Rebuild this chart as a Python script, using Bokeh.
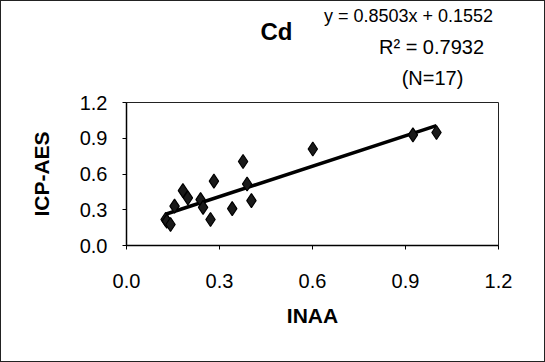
from bokeh.plotting import figure
from bokeh.layouts import column
from bokeh.embed import file_html
from bokeh.resources import INLINE
from bokeh.models import FixedTicker, NumeralTickFormatter, Label, Range1d

# Data
inaa = [0.126, 0.130, 0.142, 0.155, 0.182, 0.198, 0.239, 0.247, 0.271, 0.282,
        0.341, 0.376, 0.389, 0.403, 0.601, 0.924, 1.000]
icp = [0.218, 0.205, 0.176, 0.330, 0.460, 0.400, 0.385, 0.320, 0.218, 0.540,
       0.310, 0.705, 0.516, 0.377, 0.810, 0.929, 0.948]
slope = 0.8503
intercept = 0.1552
ticks = [0.0, 0.3, 0.6, 0.9, 1.2]
title_text = "Cd"
eq_lines = ["y = 0.8503x + 0.1552", "R² = 0.7932", "(N=17)"]

FONT = "Liberation Sans"
W = 543
TOP_H = 88
MAIN_H = 272
BL, BR = 125, 46

# Header strip holding title and regression text (page pixel coordinates;
# its frame is aligned by the column with the main frame, page x 126..498)
top = figure(width=W, height=TOP_H, output_backend="svg", toolbar_location=None,
             x_range=Range1d(126, 498), y_range=Range1d(TOP_H + 1, 1),
             x_axis_location=None, y_axis_location=None,
             min_border=0, title=None)
top.grid.visible = False
top.outline_line_color = None
top.background_fill_color = "white"
top.border_fill_color = "white"

def lab(text, cx, cy, size, bold=False):
    return Label(x=cx, y=cy, text=text, text_font=FONT,
                 text_font_size=size,
                 text_font_style="bold" if bold else "normal",
                 text_align="center", text_baseline="middle",
                 text_color="black")

top.add_layout(lab(title_text, 276, 31, "24px", True))
top.add_layout(lab(eq_lines[0], 408, 15, "18px"))
top.add_layout(lab(eq_lines[1], 431, 46, "20px"))
top.add_layout(lab(eq_lines[2], 432, 77, "20px"))

# Main scatter plot
p = figure(width=W, height=MAIN_H, output_backend="svg", toolbar_location=None,
           x_range=Range1d(0, 1.2), y_range=Range1d(0, 1.2), title=None,
           min_border_left=BL, min_border_right=BR, min_border_top=13,
           min_border_bottom=116)
p.grid.visible = False
p.outline_line_color = "#222"
p.outline_line_width = 1
p.background_fill_color = "white"
p.border_fill_color = "white"

for ax in (p.xaxis[0], p.yaxis[0]):
    ax.ticker = FixedTicker(ticks=ticks)
    ax.formatter = NumeralTickFormatter(format="0.0")
    ax.axis_line_color = "black"
    ax.axis_line_width = 1.5
    ax.major_tick_in = 0
    ax.major_tick_out = 4
    ax.minor_tick_line_color = None
    ax.major_label_text_font = FONT
    ax.major_label_text_font_size = "20px"
    ax.major_label_text_color = "black"
    ax.axis_label_text_font = FONT
    ax.axis_label_text_font_size = "21px"
    ax.axis_label_text_font_style = "bold"
    ax.axis_label_text_color = "black"

p.xaxis.axis_label = "INAA"
p.yaxis.axis_label = "ICP-AES"
p.xaxis.major_label_standoff = 24
p.xaxis.axis_label_standoff = 13
p.yaxis.major_label_standoff = 15
p.yaxis.axis_label_standoff = 24

# Trend line from the displayed regression equation
x0, x1 = min(inaa), max(inaa)
p.line([x0, x1], [slope * x0 + intercept, slope * x1 + intercept],
       line_color="black", line_width=3.5)

p.scatter(inaa, icp, marker="diamond", size=14, fill_color="#1a1a1a",
          line_color="black", line_width=1.2)

layout = column(top, p, spacing=0, styles={"border": "1px solid #222"})

open("out.html", "w").write(file_html(layout, INLINE))
